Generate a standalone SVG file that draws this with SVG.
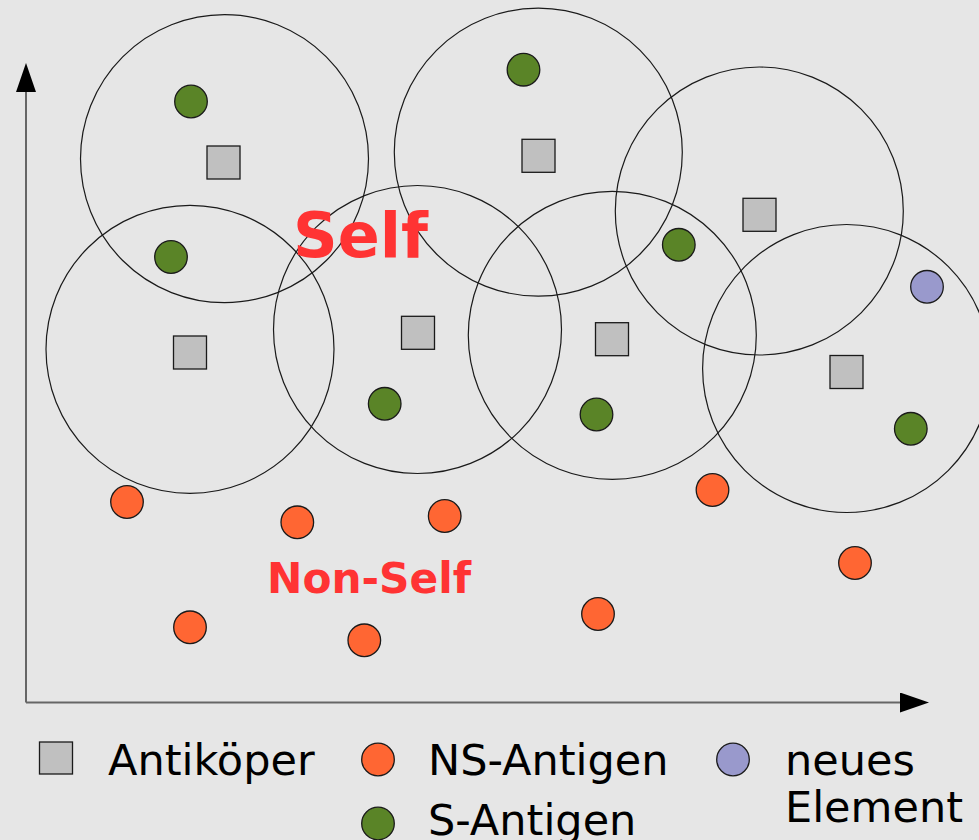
<svg xmlns="http://www.w3.org/2000/svg" width="979" height="840" viewBox="0 0 979 840">
<style>
.zone{fill:none;stroke:#1a1a1a;stroke-width:1.2}
.ab{fill:#c0c0c0;stroke:#1a1a1a;stroke-width:1.3}
.s{fill:#5a8427;stroke:#1a1a1a;stroke-width:1.3}
.ns{fill:#ff6633;stroke:#1a1a1a;stroke-width:1.3}
.neu{fill:#9999cc;stroke:#1a1a1a;stroke-width:1.3}
.axis{stroke:#666;stroke-width:2;fill:none}
.big{font-family:"DejaVu Sans",sans-serif;font-weight:bold;fill:#ff3333}
.leg{font-family:"DejaVu Sans",sans-serif;font-size:43px;fill:#000}
</style>
<defs>
<marker id="arr" markerUnits="userSpaceOnUse" markerWidth="30" markerHeight="20" viewBox="0 0 30 20" refX="0" refY="10" orient="auto">
<path d="M0,0 L29,10 L0,20 Z" fill="#000"/>
</marker>
</defs>
<rect width="979" height="840" fill="#e6e6e6"/>
<g id="axes">
<path class="axis" d="M26,702.5 L26,92" marker-end="url(#arr)"/>
<path class="axis" d="M26,702.5 L900,702.5" marker-end="url(#arr)"/>
</g>
<g id="zones">
<circle class="zone" cx="224.5" cy="158.7" r="144"/>
<circle class="zone" cx="190" cy="349.3" r="144"/>
<circle class="zone" cx="417.5" cy="329.5" r="144"/>
<circle class="zone" cx="538.3" cy="152.2" r="144"/>
<circle class="zone" cx="612.3" cy="335.3" r="144"/>
<circle class="zone" cx="759.3" cy="211" r="144"/>
<circle class="zone" cx="846.6" cy="368.5" r="144"/>
</g>
<g id="antibodies">
<rect class="ab" x="207" y="146" width="33" height="33"/>
<rect class="ab" x="173.5" y="336" width="33" height="33"/>
<rect class="ab" x="401.5" y="316.3" width="33" height="33"/>
<rect class="ab" x="522" y="139.3" width="33" height="33"/>
<rect class="ab" x="595.5" y="322.7" width="33" height="33"/>
<rect class="ab" x="743" y="198.3" width="33" height="33"/>
<rect class="ab" x="830" y="355.5" width="33" height="33"/>
</g>
<g id="s-antigens">
<circle class="s" cx="191" cy="101.5" r="16.3"/>
<circle class="s" cx="523.5" cy="69.7" r="16.3"/>
<circle class="s" cx="171" cy="257" r="16.3"/>
<circle class="s" cx="384.7" cy="403.8" r="16.3"/>
<circle class="s" cx="678.8" cy="244.8" r="16.3"/>
<circle class="s" cx="596.5" cy="414.5" r="16.3"/>
<circle class="s" cx="910.8" cy="428.8" r="16.3"/>
</g>
<g id="ns-antigens">
<circle class="ns" cx="127" cy="502" r="16.3"/>
<circle class="ns" cx="297.3" cy="522.3" r="16.3"/>
<circle class="ns" cx="444.7" cy="516" r="16.3"/>
<circle class="ns" cx="712.5" cy="490" r="16.3"/>
<circle class="ns" cx="190" cy="627.3" r="16.3"/>
<circle class="ns" cx="364.3" cy="640.3" r="16.3"/>
<circle class="ns" cx="598" cy="614" r="16.3"/>
<circle class="ns" cx="855" cy="563" r="16.3"/>
</g>
<g id="new-element">
<circle class="neu" cx="927" cy="286.8" r="16.3"/>
</g>
<g id="labels">
<text class="big" x="293" y="256.5" font-size="62">Self</text>
<text class="big" x="267" y="592.7" font-size="42.3">Non-Self</text>
</g>
<g id="legend">
<rect class="ab" x="39.5" y="742" width="33" height="32"/>
<text class="leg" x="108" y="775">Antiköper</text>
<circle class="ns" cx="378" cy="759.5" r="16.3"/>
<text class="leg" x="428" y="775">NS-Antigen</text>
<circle class="s" cx="378" cy="823.5" r="16.3"/>
<text class="leg" x="428" y="835">S-Antigen</text>
<circle class="neu" cx="733" cy="759.5" r="16.3"/>
<text class="leg" x="785" y="775">neues</text>
<text class="leg" x="785" y="822">Element</text>
</g>
</svg>
